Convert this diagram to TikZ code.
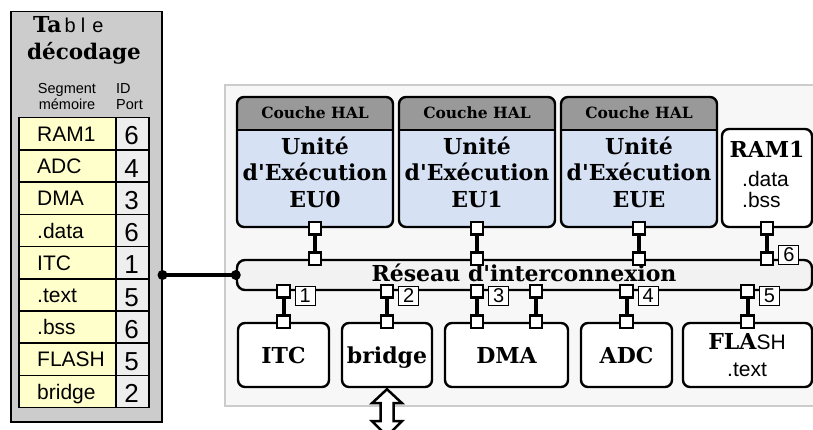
\documentclass[tikz,border=0pt]{standalone}
\usepackage{fontspec}
\setmainfont{Liberation Sans}
\newfontfamily\serf{DejaVu Serif}
\definecolor{pgray}{HTML}{CCCCCC}
\definecolor{cellyel}{HTML}{FFFFCC}
\definecolor{cellnum}{HTML}{EEEEEE}
\definecolor{eublue}{HTML}{D6E1F3}
\definecolor{hdrgray}{HTML}{999999}
\definecolor{mainbg}{HTML}{F7F7F7}
\definecolor{barbg}{HTML}{F2F2F2}
\begin{document}
\begin{tikzpicture}[x=1pt,y=-1pt,
  txt/.style={inner sep=0pt, anchor=base},
  big/.style={txt, font=\serf\bfseries\fontsize{22}{26}\selectfont},
  hal/.style={txt, font=\serf\bfseries\fontsize{15.5}{17}\selectfont},
  sml/.style={txt, font=\fontsize{14.5}{16}\selectfont},
  med/.style={txt, font=\fontsize{21}{23}\selectfont},
  cellt/.style={inner sep=0pt, anchor=base west, font=\fontsize{21}{23}\selectfont},
  numt/.style={txt, font=\fontsize{26}{28}\selectfont},
  ycell/.style={draw, line width=1.5pt, fill=cellyel, anchor=north west, inner sep=0pt, minimum width=97pt, minimum height=32.2pt},
  ncell/.style={draw, line width=1.5pt, fill=cellnum, anchor=north west, inner sep=0pt, minimum width=33pt, minimum height=32.2pt},
  eubox/.style={draw, line width=2.4pt, rounded corners=7pt, fill=eublue, minimum width=156pt, minimum height=130pt, inner sep=0pt,
    path picture={\fill[hdrgray, sharp corners] (path picture bounding box.north west) rectangle ([yshift=-33pt]path picture bounding box.north east);
      \draw[line width=2.4pt, sharp corners] ([yshift=-33pt]path picture bounding box.north west) -- ([yshift=-33pt]path picture bounding box.north east);}},
  wbox/.style={draw, line width=2.4pt, rounded corners=7pt, fill=white, inner sep=0pt, minimum height=64pt},
  port/.style={draw, line width=2.2pt, fill=white, minimum size=12.5pt, inner sep=0pt},
  link/.style={line width=4pt},
  numl/.style={draw, line width=0.9pt, fill=white, inner sep=0pt, minimum width=20pt, minimum height=19pt, font=\fontsize{20}{21}\selectfont},
]
\useasboundingbox (0,0) rectangle (813,430);
\clip (0,0) rectangle (813,430);
\fill[white] (0,0) rectangle (813,430);

% decoding table
\node[draw, line width=1.5pt, fill=pgray, anchor=north west, minimum width=151pt, minimum height=410pt, inner sep=0pt] (tbl) at (10,11) {};
\node[inner sep=0pt, anchor=base west, font=\fontsize{20}{22}\selectfont] (ttl1) at (33,33) {{\serf\bfseries\fontsize{22}{24}\selectfont Ta}\hspace{3pt}b\hspace{5pt}l\hspace{7pt}e};
\node[big, font=\serf\bfseries\fontsize{21.5}{24}\selectfont] (ttl2) at (84,60) {décodage};
\node[sml] (hs1) at (67,94) {Segment};
\node[sml] (hs2) at (67,110) {mémoire};
\node[sml, anchor=base west] (hi1) at (116,94) {ID};
\node[sml, anchor=base west] (hi2) at (116,110) {Port};
\foreach \t/\n [count=\i from 0] in {RAM1/6, ADC/4, DMA/3, .data/6, ITC/1, .text/5, .bss/6, FLASH/5, bridge/2} {
  \node[ycell] (seg\i) at (18, 117+32.2*\i) {};
  \node[ncell] (id\i) at (115, 117+32.2*\i) {};
  \node[cellt] (segt\i) at (37, 141.5+32.2*\i) {\t};
  \node[numt] (idt\i) at (131.5, 145+32.2*\i) {\n};
}

% main panel
\node[draw=pgray, line width=2pt, fill=mainbg, anchor=north west, minimum width=620pt, minimum height=321pt, inner sep=0pt] (main) at (224,84) {};

% execution units
\foreach \nm/\x/\lab in {eu0/315/EU0, eu1/477/EU1, eue/639/EUE} {
  \node[eubox] (\nm) at (\x,162) {};
  \node[hal] (\nm h) at (\x,119) {Couche HAL};
  \node[big] (\nm a) at (\x,155) {Unité};
  \node[big] (\nm b) at (\x,181) {d'Exécution};
  \node[big] (\nm c) at (\x,208) {\lab};
}
\node[wbox, minimum width=90pt, minimum height=98pt] (ram) at (767,178) {};
\node[big] (rama) at (767,158) {RAM1};
\node[med, anchor=base west, text depth=0pt] (ramb) at (742,187) {.data};
\node[med, anchor=base west] (ramc) at (742,207.5) {.bss};

% interconnect
\node[draw, line width=2.4pt, fill=barbg, rounded corners=8pt, minimum width=575pt, minimum height=30pt, inner sep=0pt] (bar) at (524.5,275) {};
\node[big, text depth=0pt] (bart) at (524,281.5) {Réseau d'interconnexion};

% bottom units
\node[wbox, minimum width=91pt] (itc) at (283.5,355) {};
\node[wbox, minimum width=90pt] (bridge) at (387,355) {};
\node[wbox, minimum width=123pt] (dma) at (506.5,355) {};
\node[wbox, minimum width=91pt] (adc) at (626.5,355) {};
\node[wbox, minimum width=129pt] (flash) at (747.5,355) {};
\node[big] (itct) at (283.5,363) {ITC};
\node[big] (bridget) at (387,363) {bridge};
\node[big] (dmat) at (506.5,363) {DMA};
\node[big] (adct) at (626.5,363) {ADC};
\node[big] (flasht) at (747,349) {FLA{\normalfont\fontsize{21}{23}\selectfont SH}};
\node[med] (flashb) at (747,376) {.text};

% ports and links (top)
\foreach \u in {eu0, eu1, eue, ram} {
  \node[port] (p\u) at (\u.south) {};
  \node[port] (q\u) at (\u.south |- bar.north) {};
  \draw[link] (p\u) -- (q\u);
}
% ports and links (bottom)
\coordinate (dmaL) at ([xshift=-29.5pt]dma.north);
\coordinate (dmaR) at ([xshift=29.5pt]dma.north);
\foreach \u/\c in {itc/itc.north, bridge/bridge.north, dmaL/dmaL, dmaR/dmaR, adc/adc.north, flash/flash.north} {
  \node[port] (p\u) at (\c) {};
  \node[port] (q\u) at (\c |- bar.south) {};
  \draw[link] (p\u) -- (q\u);
}
% port id labels
\node[numl, anchor=west] (l1) at ([xshift=4pt,yshift=-4.5pt]qitc.east) {1};
\node[numl, anchor=west] (l2) at ([xshift=4pt,yshift=-4.5pt]qbridge.east) {2};
\node[numl, anchor=west] (l3) at ([xshift=4pt,yshift=-4.5pt]qdmaL.east) {3};
\node[numl, anchor=west] (l4) at ([xshift=4pt,yshift=-4.5pt]qadc.east) {4};
\node[numl, anchor=west] (l5) at ([xshift=4pt,yshift=-4.5pt]qflash.east) {5};
\node[numl, anchor=west] (l6) at ([xshift=4pt,yshift=4pt]qram.east) {6};

% table to interconnect
\coordinate (tj) at (tbl.east |- bar.west);
\draw[line width=4.5pt] (tj) -- (bar.west);
\fill (tj) circle (5pt);
\fill (bar.west) circle (5pt);

% external double arrow
\draw[line width=2.5pt, fill=white, line join=miter] ([yshift=-1pt]bridge.south) -- ++(15,14) -- ++(-8.5,0) -- ++(0,18) -- ++(8.5,0) -- ++(-15,15) -- ++(-15,-15) -- ++(8.5,0) -- ++(0,-18) -- ++(-8.5,0) -- cycle;
\end{tikzpicture}
\end{document}
